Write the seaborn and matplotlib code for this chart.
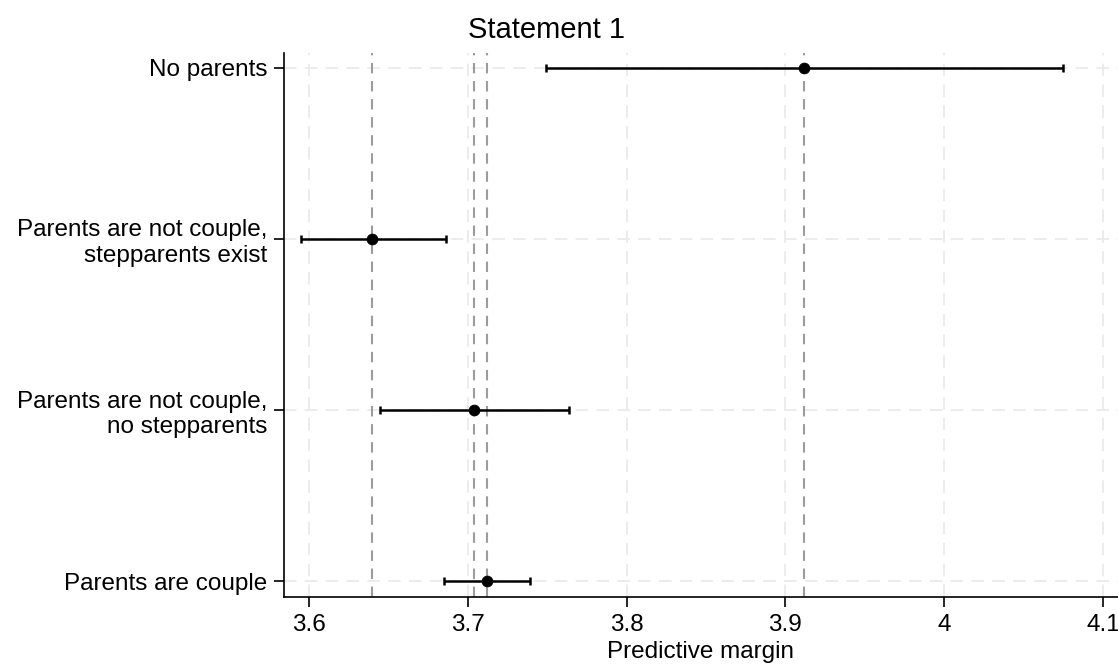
import numpy as np
import pandas as pd
import matplotlib
matplotlib.use("Agg")
import matplotlib.pyplot as plt
import seaborn as sns

# values
labels = ["No parents",
          "Parents are not couple,\nstepparents exist",
          "Parents are not couple,\nno stepparents",
          "Parents are couple"]
margin = [3.912, 3.640, 3.704, 3.712]
ci_low = [3.749, 3.595, 3.645, 3.685]
ci_high = [4.075, 3.686, 3.764, 3.739]
xticks = [3.6, 3.7, 3.8, 3.9, 4.0, 4.1]
xtick_labels = ["3.6", "3.7", "3.8", "3.9", "4", "4.1"]

df = pd.DataFrame({"label": labels, "margin": margin, "lo": ci_low, "hi": ci_high})
df["pos"] = np.arange(len(df))

sns.set_style("white")
plt.rcParams["font.family"] = ["Liberation Sans", "DejaVu Sans"]
plt.rcParams["lines.scale_dashes"] = False
for key in ["text.color", "axes.labelcolor", "xtick.color", "ytick.color"]:
    plt.rcParams[key] = "black"
plt.rcParams["xtick.bottom"] = True
plt.rcParams["ytick.left"] = True

fig, ax = plt.subplots(figsize=(11.18, 6.68), dpi=100)
fig.subplots_adjust(left=0.254, right=1.0, bottom=0.106, top=0.921)

# light dashed grid
ax.set_axisbelow(True)
ax.grid(True, color="#ebebeb", linestyle=(0, (9, 6)), linewidth=1.3)

# reference lines at each estimate
for m in df["margin"]:
    ax.axvline(m, color="#9c9c9c", linestyle=(0, (7.5, 5.5)), linewidth=1.5, zorder=1)

ax.errorbar(df["margin"], df["pos"],
            xerr=[df["margin"] - df["lo"], df["hi"] - df["margin"]],
            fmt="none", ecolor="black", elinewidth=1.8, capsize=3.2,
            capthick=1.8, zorder=3)
sns.scatterplot(data=df, x="margin", y="pos", ax=ax, color="black", s=60,
                edgecolor="black", zorder=4, legend=False)

ax.set_xlim(3.5843, 4.1094)
ax.set_ylim(3.094, -0.088)
ax.set_xticks(xticks)
ax.set_xticklabels(xtick_labels)
ax.set_yticks(df["pos"])
ax.set_yticklabels(df["label"], ha="right", multialignment="right")

ax.tick_params(axis="x", labelsize=17.5, length=7, width=1.2, pad=5, direction="out")
ax.tick_params(axis="y", labelsize=17.5, length=7, width=1.2, pad=5, direction="out")
ax.xaxis.set_ticks_position("bottom")
ax.yaxis.set_ticks_position("left")

for side in ["top", "right"]:
    ax.spines[side].set_visible(False)
for side in ["left", "bottom"]:
    ax.spines[side].set_color("black")
    ax.spines[side].set_linewidth(1.2)

ax.set_xlabel("Predictive margin", fontsize=17.5, labelpad=4)
ax.set_ylabel("")
fig.text(0.489, 0.955, "Statement 1", fontsize=21, ha="center", va="center")

fig.savefig("out.png", dpi=100)
